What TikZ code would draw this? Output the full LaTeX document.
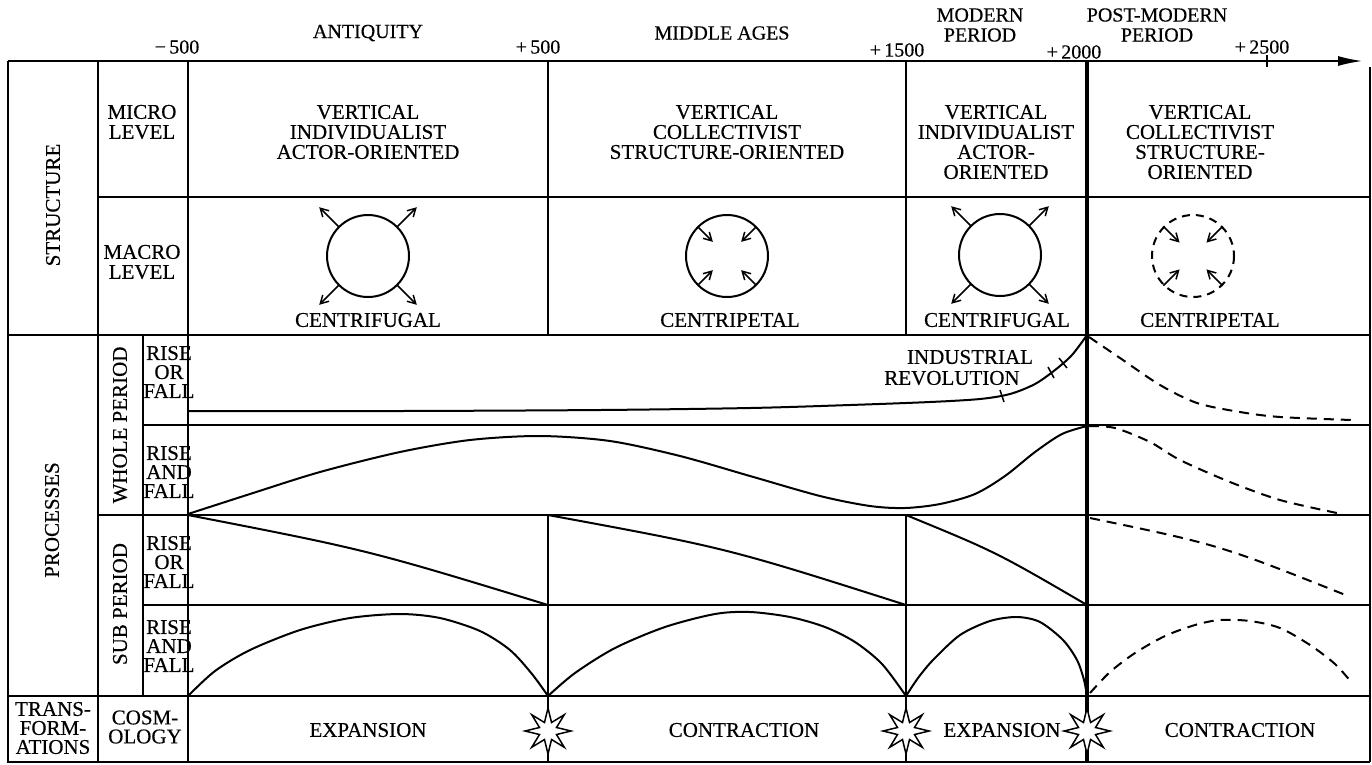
\documentclass[tikz,border=0pt]{standalone}
\usepackage{fontspec}
\setmainfont{Liberation Serif}
\newfontfamily\labfont{Liberation Serif}[FakeBold=0.4]
\usetikzlibrary{arrows.meta,shapes.geometric,calc}
\begin{document}
\begin{tikzpicture}[x=1pt,y=-1pt,
  grid/.style={line width=1.3pt},
  curve/.style={line width=2pt},
  dcurve/.style={line width=2pt, dash pattern=on 10pt off 7pt},
  hdr/.style={font=\labfont\fontsize{20}{20}\selectfont, inner sep=0pt, align=center},
  lbl/.style={font=\labfont\fontsize{21}{20}\selectfont, inner sep=0pt, align=center},
  sml/.style={font=\labfont\fontsize{21}{19}\selectfont, inner sep=0pt, align=center},
  arr/.style={line width=1.5pt, -{Straight Barb[length=8pt,width=9pt]}},
  burst/.style={star, star points=8, star point ratio=2.5, minimum size=46pt, draw, line width=1.5pt, fill=white, inner sep=0pt},
  tickmark/.style={line width=1.5pt},
]
\useasboundingbox (0,0) rectangle (1372,764);
% frame and grid
\draw[grid, -{Latex[length=24pt,width=10pt]}] (8,61) -- (1362,61);
\draw[grid] (8,61) -- (8,762) -- (1370,762);
\draw[grid] (1370,67) -- (1370,762);
\draw[grid] (98,61) -- (98,762);
\draw[grid] (188,61) -- (188,762);
\draw[grid] (548,61) -- (548,335) (548,515) -- (548,762);
\draw[grid] (906,61) -- (906,335) (906,515) -- (906,762);
\draw[grid] (143,335) -- (143,696);
\draw[grid] (98,197) -- (1370,197);
\draw[grid] (8,335) -- (1370,335);
\draw[grid] (143,425) -- (1370,425);
\draw[grid] (98,515) -- (1370,515);
\draw[grid] (143,605) -- (1370,605);
\draw[grid] (8,696) -- (1370,696);
\draw[grid] (1267,55) -- (1267,67);
\draw[line width=4pt] (1087,61) -- (1087,762);
% header labels
\node[hdr] (m500) at (177,47) {−\,500};
\node[hdr] (p500) at (538,47) {+\,500};
\node[hdr] (p1500) at (897,50) {+\,1500};
\node[hdr] (p2000) at (1074,52) {+\,2000};
\node[hdr] (p2500) at (1262,47) {+\,2500};
\node[hdr] (ant) at (368,33) {ANTIQUITY};
\node[hdr] (mid) at (722,33) {MIDDLE AGES};
\node[hdr] (mod) at (980,25) {MODERN\\PERIOD};
\node[hdr] (pmod) at (1157,25) {POST-MODERN\\PERIOD};
% left labels
\node[lbl, rotate=90] (struct) at (53,205) {STRUCTURE};
\node[lbl, rotate=90] (proc) at (52,520) {PROCESSES};
\node[lbl, rotate=90] (whole) at (120,425) {WHOLE PERIOD};
\node[lbl, rotate=90] (sub) at (120,604) {SUB PERIOD};
\node[lbl] (micro) at (142,122) {MICRO\\LEVEL};
\node[lbl] (macro) at (142,262) {MACRO\\LEVEL};
\node[sml] (wrof) at (169,372) {RISE\\OR\\FALL};
\node[sml] (wraf) at (169,472) {RISE\\AND\\FALL};
\node[sml] (srof) at (169,562) {RISE\\OR\\FALL};
\node[sml] (sraf) at (169,646) {RISE\\AND\\FALL};
\node[sml] (trans) at (53,728) {TRANS-\\FORM-\\ATIONS};
\node[sml] (cosm) at (145,727) {COSM-\\OLOGY};
% micro level texts
\node[lbl] (t1) at (368,132) {VERTICAL\\INDIVIDUALIST\\ACTOR-ORIENTED};
\node[lbl] (t2) at (727,132) {VERTICAL\\COLLECTIVIST\\STRUCTURE-ORIENTED};
\node[lbl] (t3) at (996,142) {VERTICAL\\INDIVIDUALIST\\ACTOR-\\ORIENTED};
\node[lbl] (t4) at (1200,142) {VERTICAL\\COLLECTIVIST\\STRUCTURE-\\ORIENTED};
% macro level circles
\coordinate (c1) at (368,256);
\coordinate (c2) at (727,256);
\coordinate (c3) at (1000,255);
\coordinate (c4) at (1193,256);
\draw[line width=2pt] (c1) circle[radius=41];
\draw[line width=2pt] (c2) circle[radius=41];
\draw[line width=2pt] (c3) circle[radius=41];
\draw[line width=2pt, dash pattern=on 8pt off 6pt] (c4) circle[radius=41];
\foreach \a in {45,135,225,315} {
  \draw[arr] ($(c1)+(\a:41)$) -- ($(c1)+(\a:69)$);
  \draw[arr] ($(c3)+(\a:41)$) -- ($(c3)+(\a:69)$);
  \draw[arr] ($(c2)+(\a:41)$) -- ($(c2)+(\a:20)$);
  \draw[arr] ($(c4)+(\a:42)$) -- ($(c4)+(\a:19)$);
}
\node[lbl] (cf1) at (368,320) {CENTRIFUGAL};
\node[lbl] (cp2) at (730,320) {CENTRIPETAL};
\node[lbl] (cf3) at (997,320) {CENTRIFUGAL};
\node[lbl] (cp4) at (1210,320) {CENTRIPETAL};
% whole period, rise or fall
\draw[curve] plot[smooth, tension=0.5] coordinates {(188,411) (400,411) (600,410) (750,408) (850,405) (930,402) (980,399) (1010,394) (1035,384) (1055,370) (1072,355) (1087,335)};
\draw[tickmark] (1000,390) -- (1004,402);
\draw[tickmark] (1048,367) -- (1054,378);
\draw[tickmark] (1059,358) -- (1067,368);
\draw[dcurve] plot[smooth, tension=0.5] coordinates {(1089,337) (1120,358) (1160,385) (1197,403) (1240,412) (1280,417) (1352,420)};
\node[lbl] (ind) at (970,357) {INDUSTRIAL};
\node[lbl] (rev) at (952,378) {REVOLUTION};
% whole period, rise and fall
\draw[curve] plot[smooth, tension=0.5] coordinates {(188,514) (250,494) (320,472) (400,452) (470,440) (540,436) (610,441) (680,456) (750,476) (820,496) (870,506) (905,508) (940,504) (975,494) (1005,476) (1035,452) (1062,434) (1087,426)};
\draw[dcurve] plot[smooth, tension=0.5] coordinates {(1089,426) (1115,428) (1150,442) (1180,460) (1230,482) (1280,500) (1337,513)};
% sub period, rise or fall
\draw[curve] (188,515) .. controls (368,550) .. (548,605);
\draw[curve] (548,515) .. controls (727,548) .. (906,605);
\draw[curve] (906,515) .. controls (996,552) .. (1087,605);
\draw[dcurve] (1090,518) .. controls (1220,545) .. (1348,596);
% sub period, rise and fall
\draw[curve] plot[smooth, tension=0.5] coordinates {(188,696) (215,671) (250,650) (300,630) (350,618) (400,614) (440,618) (480,631) (510,650) (532,674) (548,696)};
\draw[curve] plot[smooth, tension=0.5] coordinates {(548,696) (575,673) (615,648) (665,627) (715,614) (750,612) (790,617) (825,627) (855,642) (882,664) (906,696)};
\draw[curve] plot[smooth, tension=0.5] coordinates {(906,696) (918,678) (933,660) (960,635) (990,621) (1017,617) (1040,622) (1063,640) (1077,660) (1084,680) (1087,696)};
\draw[dcurve] plot[smooth, tension=0.5] coordinates {(1090,693) (1110,672) (1135,653) (1165,636) (1195,625) (1220,620) (1250,621) (1280,628) (1310,645) (1335,664) (1352,683)};
% transformations
\node[burst] (s1) at (548,731) {};
\node[burst] (s2) at (906,731) {};
\node[burst] (s3) at (1087,731) {};
\node[lbl] (e1) at (368,730) {EXPANSION};
\node[lbl] (k1) at (744,730) {CONTRACTION};
\node[lbl] (e2) at (1002,730) {EXPANSION};
\node[lbl] (k2) at (1240,730) {CONTRACTION};
\end{tikzpicture}
\end{document}
